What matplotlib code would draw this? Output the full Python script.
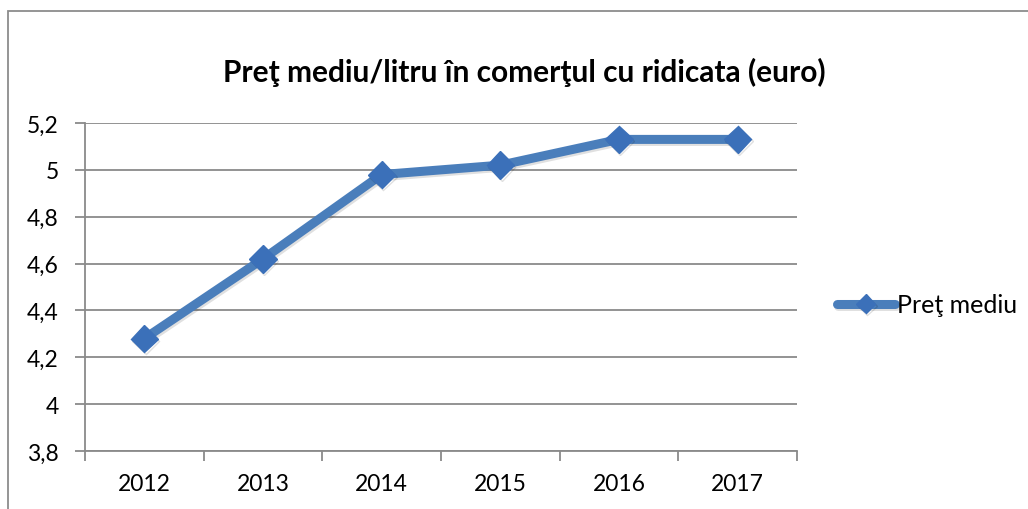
import matplotlib
matplotlib.use("Agg")
import matplotlib.pyplot as plt
from matplotlib.patches import Rectangle
from matplotlib.ticker import FixedLocator, NullFormatter
import matplotlib.patheffects as pe

# date
ani = ["2012", "2013", "2014", "2015", "2016", "2017"]
pret_mediu = [4.28, 4.62, 4.98, 5.02, 5.13, 5.13]
y_ticks = [3.8, 4.0, 4.2, 4.4, 4.6, 4.8, 5.0, 5.2]
y_labels = ["3,8", "4", "4,2", "4,4", "4,6", "4,8", "5", "5,2"]

plt.rcParams['font.family'] = ['Lato', 'DejaVu Sans']

fig = plt.figure(figsize=(10.28, 5.10), dpi=100)
ax = fig.add_axes([85 / 1028, 58 / 510, 712 / 1028, 328 / 510])

# chenar exterior (doar sus si stanga se vad)
fig.patches.append(Rectangle((8 / 1028, -0.1), 1.2, 0.1 + 498 / 510, transform=fig.transFigure,
                             fill=False, edgecolor='#8c8c8c', linewidth=1.3))

x = range(len(ani))
ax.plot(x, pret_mediu, color='#4a7ebb', linewidth=6.5, marker='D', markersize=14,
        markerfacecolor='#3b70b9', markeredgecolor='#3b70b9', solid_capstyle='round',
        label='Preţ mediu', zorder=3,
        path_effects=[pe.SimpleLineShadow(offset=(1, -1.5), alpha=0.12), pe.Normal()])

ax.set_xlim(-0.5, len(ani) - 0.5)
ax.set_ylim(3.8, 5.2)
ax.set_yticks(y_ticks)
ax.set_yticklabels(y_labels, fontsize=16.5)
ax.yaxis.grid(True, color='#8a8a8a', linewidth=1.3)
ax.set_axisbelow(True)

ax.xaxis.set_major_locator(FixedLocator([i - 0.5 for i in range(len(ani) + 1)]))
ax.xaxis.set_major_formatter(NullFormatter())
ax.xaxis.set_minor_locator(FixedLocator(list(x)))
ax.set_xticklabels(ani, minor=True, fontsize=16.5)
ax.tick_params(axis='x', which='minor', length=0, pad=16)
ax.tick_params(axis='x', which='major', length=7, color='#8a8a8a', width=1.3)
ax.tick_params(axis='y', length=7, color='#8a8a8a', width=1.3, pad=12)

for s in ['top', 'right']:
    ax.spines[s].set_visible(False)
for s in ['left', 'bottom']:
    ax.spines[s].set_color('#8a8a8a')
    ax.spines[s].set_linewidth(1.3)

fig.text(524 / 1028, 1 - 72 / 510, 'Preţ mediu/litru în comerţul cu ridicata (euro)',
         ha='center', va='center', fontsize=21.5, fontweight='bold')

ax.legend(loc='center left', bbox_to_anchor=(837 / 1028, 1 - 306 / 510),
          bbox_transform=fig.transFigure, frameon=False, fontsize=18,
          handlelength=2.3, handletextpad=0.1, borderpad=0, borderaxespad=0,
          markerscale=0.7)

fig.savefig('out.png', dpi=100)
